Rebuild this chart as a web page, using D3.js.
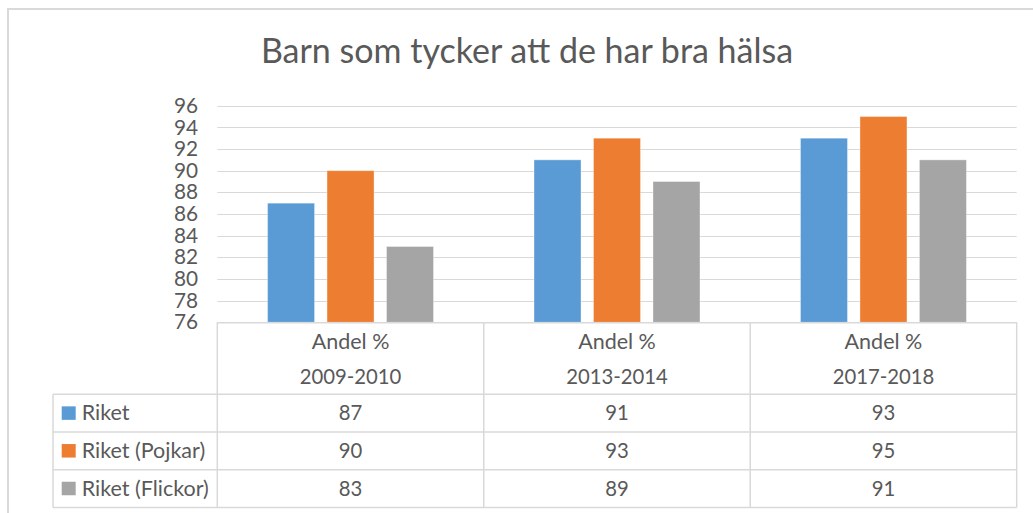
<!DOCTYPE html>
<html>
<head>
<meta charset="utf-8">
<script src="https://cdn.jsdelivr.net/npm/d3@7/dist/d3.min.js"></script>
<style>
  html, body { margin: 0; padding: 0; background: #fff; }
  svg { display: block; font-family: Lato, "Open Sans", sans-serif; }
</style>
</head>
<body>
<svg id="chart" width="1033" height="513"></svg>
<script>
// ---- data ----
const title = "Barn som tycker att de har bra hälsa";
const categories = ["2009-2010", "2013-2014", "2017-2018"];
const categoryPrefix = "Andel %";
const seriesNames = ["Riket", "Riket (Pojkar)", "Riket (Flickor)"];
const riket = [87, 91, 93];
const riketPojkar = [90, 93, 95];
const riketFlickor = [83, 89, 91];
const seriesColors = ["#5B9BD5", "#ED7D31", "#A5A5A5"];
const yTicks = [76, 78, 80, 82, 84, 86, 88, 90, 92, 94, 96];

const seriesValues = [riket, riketPojkar, riketFlickor];

// ---- layout ----
const svg = d3.select("#chart");
const textColor = "#595959";
const lineColor = "#d9d9d9";

const plotLeft = 217.3, plotRight = 1016.7, plotTop = 105.7, plotBottom = 322.3;
const tableLeft = 53;
const headerBottom = 394.3;
const rowHeight = 37.7;
const wordSize = "21.5px", numSize = "20.3px";

// outer chart border (top + left)
svg.append("rect").attr("x", 8).attr("y", 9).attr("width", 1040).attr("height", 520)
  .attr("fill", "none").attr("stroke", "#d9d9d9").attr("stroke-width", 2);

// title
svg.append("text").attr("x", 527).attr("y", 63.3)
  .attr("text-anchor", "middle").attr("fill", textColor)
  .style("font-size", "34px").text(title);

const x = d3.scaleBand().domain(categories).range([plotLeft, plotRight]).padding(0);
const xs = d3.scaleBand().domain(seriesNames).range([0, x.bandwidth()])
  .paddingInner(0.21).paddingOuter(0.845);
const y = d3.scaleLinear().domain([76, 96]).range([plotBottom, plotTop]);

// gridlines
svg.append("g").selectAll("line").data(yTicks.filter(t => t !== 76)).join("line")
  .attr("x1", plotLeft).attr("x2", plotRight)
  .attr("y1", d => Math.round(y(d)) + 0.5).attr("y2", d => Math.round(y(d)) + 0.5)
  .attr("stroke", lineColor).attr("stroke-width", 1);

// y axis labels
const yAxis = d3.axisLeft(y).tickValues(yTicks).tickSize(0).tickPadding(0);
const yg = svg.append("g").attr("transform", `translate(198,0)`).call(yAxis);
yg.select(".domain").remove();
yg.selectAll("text").attr("fill", textColor).style("font-size", "20.8px")
  .style("font-family", "Lato, 'Open Sans', sans-serif");

// bars
const groups = svg.append("g").selectAll("g").data(categories).join("g")
  .attr("transform", d => `translate(${x(d)},0)`);
groups.selectAll("rect").data((c, ci) => seriesNames.map((s, si) => ({s, si, v: seriesValues[si][ci]})))
  .join("rect")
  .attr("x", d => xs(d.s)).attr("width", xs.bandwidth())
  .attr("y", d => y(d.v)).attr("height", d => plotBottom - y(d.v))
  .attr("fill", d => seriesColors[d.si])
  .attr("stroke", "#ffffff").attr("stroke-opacity", 0.35).attr("stroke-width", 1);

// ---- data table ----
const tg = svg.append("g");
const tableBottom = headerBottom + rowHeight * seriesNames.length;
// horizontal lines
tg.append("line").attr("x1", plotLeft).attr("x2", plotRight)
  .attr("y1", plotBottom + 0.5).attr("y2", plotBottom + 0.5)
  .attr("stroke", lineColor).attr("stroke-width", 1.5);
d3.range(seriesNames.length + 1).forEach(i => {
  const yy = headerBottom + i * rowHeight;
  tg.append("line").attr("x1", tableLeft).attr("x2", plotRight)
    .attr("y1", yy).attr("y2", yy).attr("stroke", lineColor).attr("stroke-width", 1.5);
});
// vertical lines
tg.append("line").attr("x1", tableLeft).attr("x2", tableLeft)
  .attr("y1", headerBottom).attr("y2", tableBottom).attr("stroke", lineColor).attr("stroke-width", 1.5);
[plotLeft].concat(categories.map(c => x(c) + x.bandwidth())).forEach(xx => {
  tg.append("line").attr("x1", xx).attr("x2", xx)
    .attr("y1", plotBottom).attr("y2", tableBottom).attr("stroke", lineColor).attr("stroke-width", 1.5);
});
// header text
categories.forEach(c => {
  const cx = x(c) + x.bandwidth() / 2;
  tg.append("text").attr("x", cx).attr("y", 348.5).attr("text-anchor", "middle")
    .attr("fill", textColor).style("font-size", wordSize).text(categoryPrefix);
  tg.append("text").attr("x", cx).attr("y", 383.5).attr("text-anchor", "middle")
    .attr("fill", textColor).style("font-size", numSize).text(c);
});
// rows
seriesNames.forEach((s, si) => {
  const ry = headerBottom + si * rowHeight;
  const cy = ry + rowHeight / 2;
  tg.append("rect").attr("x", 61.7).attr("y", cy - 6.8).attr("width", 14).attr("height", 13.5)
    .attr("fill", seriesColors[si]);
  tg.append("text").attr("x", 81.7).attr("y", cy + 7).attr("fill", textColor)
    .style("font-size", wordSize).text(s);
  categories.forEach((c, ci) => {
    tg.append("text").attr("x", x(c) + x.bandwidth() / 2).attr("y", cy + 7)
      .attr("text-anchor", "middle").attr("fill", textColor)
      .style("font-size", numSize).text(seriesValues[si][ci]);
  });
});
</script>
</body>
</html>
